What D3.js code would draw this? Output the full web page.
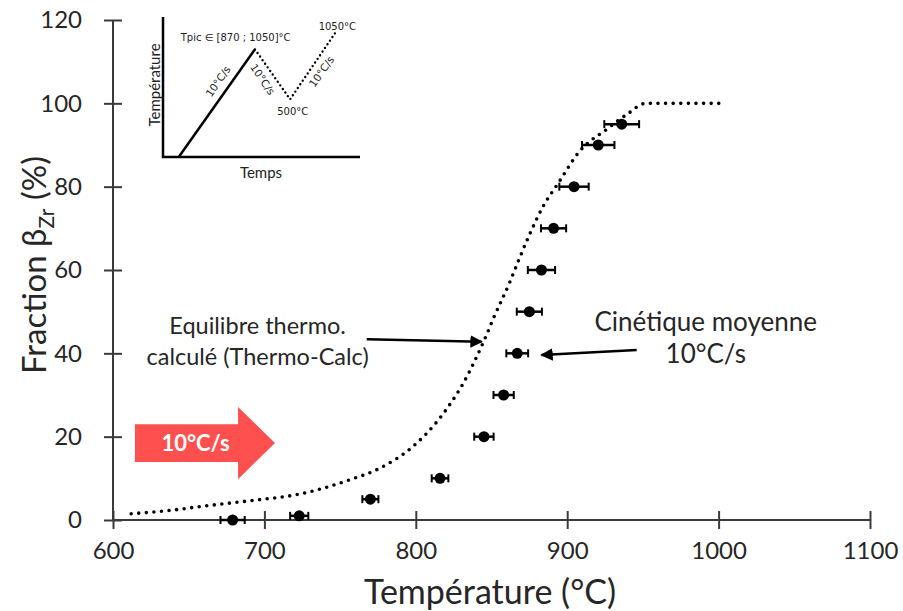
<!DOCTYPE html>
<html>
<head>
<meta charset="utf-8">
<script src="https://cdn.jsdelivr.net/npm/d3@7"></script>
<style>
  body { margin: 0; background: #fff; }
  svg text { font-family: Lato, 'Open Sans', sans-serif; fill: #262626; }
  .inset text { font-family: 'DejaVu Sans', sans-serif; fill: #222; }
</style>
</head>
<body>
<div id="chart"></div>
<script>
// measured points (kinetics at 10°C/s)
const temps = [679, 723, 770, 816, 845, 858, 867, 875, 883, 891, 904.5, 920.5, 936]
const fractions = [0, 1, 5, 10, 20, 30, 40, 50, 60, 70, 80, 90, 95]
const errors = [8, 6, 5.3, 5.5, 6.4, 6.7, 7.2, 8.3, 9, 8.3, 9.7, 10.7, 11.5]

// Thermo-Calc equilibrium curve
const eqTemps = [612, 640, 657, 690, 723, 756, 776, 798, 814, 823, 831, 845, 852, 862, 868, 875, 884, 894, 908, 927, 940, 952, 1001]
const eqFracs = [1.5, 2.4, 3.2, 4.6, 6.2, 9.6, 12.4, 17.6, 23.6, 28, 32.6, 43, 49, 57, 62.4, 68.4, 75.2, 80.8, 88.4, 94, 97.5, 100, 100]

const xTicks = [600, 700, 800, 900, 1000, 1100]
const yTicks = [0, 20, 40, 60, 80, 100, 120]

// inset schematic (arbitrary units 0-100)
const insetRamp = [[8, 0], [46.7, 76.9]]
const insetCycle = [[46.7, 76.9], [64.5, 41.2], [87.3, 88.4]]

const W = 903, H = 611
const margin = { top: 20, right: 33, bottom: 91, left: 113 }
const width = W - margin.left - margin.right
const height = H - margin.top - margin.bottom

const svg = d3.select('#chart').append('svg').attr('width', W).attr('height', H)
const g = svg.append('g').attr('transform', `translate(${margin.left}, ${margin.top})`)

const x = d3.scaleLinear().domain([600, 1100]).range([0, width])
const y = d3.scaleLinear().domain([0, 120]).range([height, 0])

// axes
const xAxis = g.append('g')
  .attr('transform', `translate(0, ${height})`)
  .call(d3.axisBottom(x).tickValues(xTicks).tickFormat(d3.format('d')).tickSize(9).tickPadding(13))
xAxis.selectAll('.tick line').attr('y1', -9)
xAxis.selectAll('text').style('font-size', '24px')

const yAxis = g.append('g')
  .call(d3.axisLeft(y).tickValues(yTicks).tickSize(9).tickPadding(22))
yAxis.selectAll('.tick line').attr('x1', 9)
yAxis.selectAll('text').style('font-size', '24px')

g.selectAll('.domain, .tick line').attr('stroke', '#3a3a3a').attr('stroke-width', 2)
xAxis.select('.domain').attr('d', `M0,0H${width}`)
yAxis.select('.domain').attr('d', `M0,0V${height}`)
g.selectAll('.tick text').attr('fill', '#262626')

// axis titles
svg.append('text')
  .attr('x', 490)
  .attr('y', 604)
  .attr('text-anchor', 'middle')
  .style('font-size', '34px')
  .text('Température (°C)')

const yt = svg.append('text')
  .attr('transform', 'translate(46, 265) rotate(-90)')
  .attr('text-anchor', 'middle')
  .style('font-size', '33px')
yt.append('tspan').text('Fraction β')
yt.append('tspan').attr('dy', 8).style('font-size', '21px').text('Zr')
yt.append('tspan').attr('dy', -8).text(' (%)')

// red arrow "10°C/s"
const arrowPts = [[614.5, 23], [682.6, 23], [682.6, 27.1], [707, 18.5], [682.6, 9.8], [682.6, 13.9], [614.5, 13.9]]
g.append('path')
  .attr('d', d3.line().x((d) => x(d[0])).y((d) => y(d[1]))(arrowPts) + 'Z')
  .attr('fill', '#ff5050')
g.append('text')
  .attr('x', x(654.5))
  .attr('y', y(18.5) + 8)
  .attr('text-anchor', 'middle')
  .style('font-size', '22px')
  .style('font-weight', 'bold')
  .style('fill', '#fff')
  .text('10°C/s')

// equilibrium curve (dotted)
const eqData = eqTemps.map((t, i) => ({ t, f: eqFracs[i] }))
g.append('path')
  .datum(eqData)
  .attr('fill', 'none')
  .attr('stroke', '#000')
  .attr('stroke-width', 3.6)
  .attr('stroke-linecap', 'round')
  .attr('stroke-dasharray', '0 7.6')
  .attr('d', d3.line().x((d) => x(d.t)).y((d) => y(d.f)).curve(d3.curveMonotoneX))

// measured points with error bars
const pts = temps.map((t, i) => ({ t, f: fractions[i], e: errors[i] }))
const pg = g.selectAll('.pt').data(pts).join('g').attr('class', 'pt')
pg.append('line')
  .attr('x1', (d) => x(d.t - d.e)).attr('x2', (d) => x(d.t + d.e))
  .attr('y1', (d) => y(d.f)).attr('y2', (d) => y(d.f))
  .attr('stroke', '#000').attr('stroke-width', 2.5)
;[-1, 1].forEach((s) => {
  pg.append('line')
    .attr('x1', (d) => x(d.t + s * d.e)).attr('x2', (d) => x(d.t + s * d.e))
    .attr('y1', (d) => y(d.f) - 4).attr('y2', (d) => y(d.f) + 4)
    .attr('stroke', '#000').attr('stroke-width', 2)
})
pg.append('circle')
  .attr('cx', (d) => x(d.t)).attr('cy', (d) => y(d.f))
  .attr('r', 5.5).attr('fill', '#000')

// annotations
svg.append('defs').append('marker')
  .attr('id', 'ah').attr('viewBox', '0 0 10 10').attr('refX', 9).attr('refY', 5)
  .attr('markerWidth', 5).attr('markerHeight', 5).attr('orient', 'auto')
  .append('path').attr('d', 'M0,0L10,5L0,10Z').attr('fill', '#000')

const annot = [
  { lines: ['Equilibre thermo.', 'calculé (Thermo-Calc)'], tx: 695.5, ty: 44.6, size: 23.5, gap: 31, from: [767.6, 43.4], to: [843.5, 42.8] },
  { lines: ['Cinétique moyenne', '10°C/s'], tx: 991.5, ty: 45.4, size: 26, gap: 32, from: [945.9, 40.8], to: [883, 39.6] },
]
annot.forEach((a) => {
  const t = g.append('text').attr('text-anchor', 'middle').style('font-size', a.size + 'px')
  a.lines.forEach((l, i) => {
    t.append('tspan').attr('x', x(a.tx)).attr('y', y(a.ty) + i * a.gap).text(l)
  })
  g.append('line')
    .attr('x1', x(a.from[0])).attr('y1', y(a.from[1]))
    .attr('x2', x(a.to[0])).attr('y2', y(a.to[1]))
    .attr('stroke', '#000').attr('stroke-width', 2.5)
    .attr('marker-end', 'url(#ah)')
})

// inset schematic
const inset = svg.append('g').attr('class', 'inset')
const ix = d3.scaleLinear().domain([0, 100]).range([163, 360])
const iy = d3.scaleLinear().domain([0, 100]).range([157, 17])
const il = d3.line().x((d) => ix(d[0])).y((d) => iy(d[1]))

inset.append('path').attr('d', `M${ix(0)},${iy(100)}V${iy(0)}H${ix(100)}`)
  .attr('fill', 'none').attr('stroke', '#000').attr('stroke-width', 2.5)
inset.append('path').attr('d', il(insetRamp))
  .attr('fill', 'none').attr('stroke', '#000').attr('stroke-width', 2.5)
inset.append('path').attr('d', il(insetCycle))
  .attr('fill', 'none').attr('stroke', '#000').attr('stroke-width', 2.4)
  .attr('stroke-linecap', 'round').attr('stroke-dasharray', '0 4.4')

const insetLabels = [
  { text: 'Tpic ∈ [870 ; 1050]°C', px: 9, py: 85.5, size: 10, rot: 0 },
  { text: '1050°C', px: 79, py: 93, size: 10, rot: 0 },
  { text: '500°C', px: 58, py: 32.5, size: 10, rot: 0 },
  { text: '10°C/s', px: 28, py: 54, size: 10.5, rot: -55, anchor: 'middle' },
  { text: '10°C/s', px: 50.5, py: 55.5, size: 10.5, rot: 56, anchor: 'middle' },
  { text: '10°C/s', px: 80.5, py: 61, size: 10.5, rot: -55, anchor: 'middle' },
]
insetLabels.forEach((d) => {
  inset.append('text')
    .attr('transform', `translate(${ix(d.px)}, ${iy(d.py)}) rotate(${d.rot})`)
    .attr('text-anchor', d.anchor || 'start')
    .attr('dy', '0.35em')
    .style('font-size', d.size + 'px')
    .text(d.text)
})
inset.append('text')
  .attr('x', 261).attr('y', 178)
  .attr('text-anchor', 'middle')
  .style('font-family', 'Lato, sans-serif')
  .style('font-size', '15px')
  .text('Temps')
inset.append('text')
  .attr('transform', `translate(160, 85) rotate(-90)`)
  .attr('text-anchor', 'middle')
  .style('font-family', 'Lato, sans-serif')
  .style('font-size', '15px')
  .text('Température')
</script>
</body>
</html>
